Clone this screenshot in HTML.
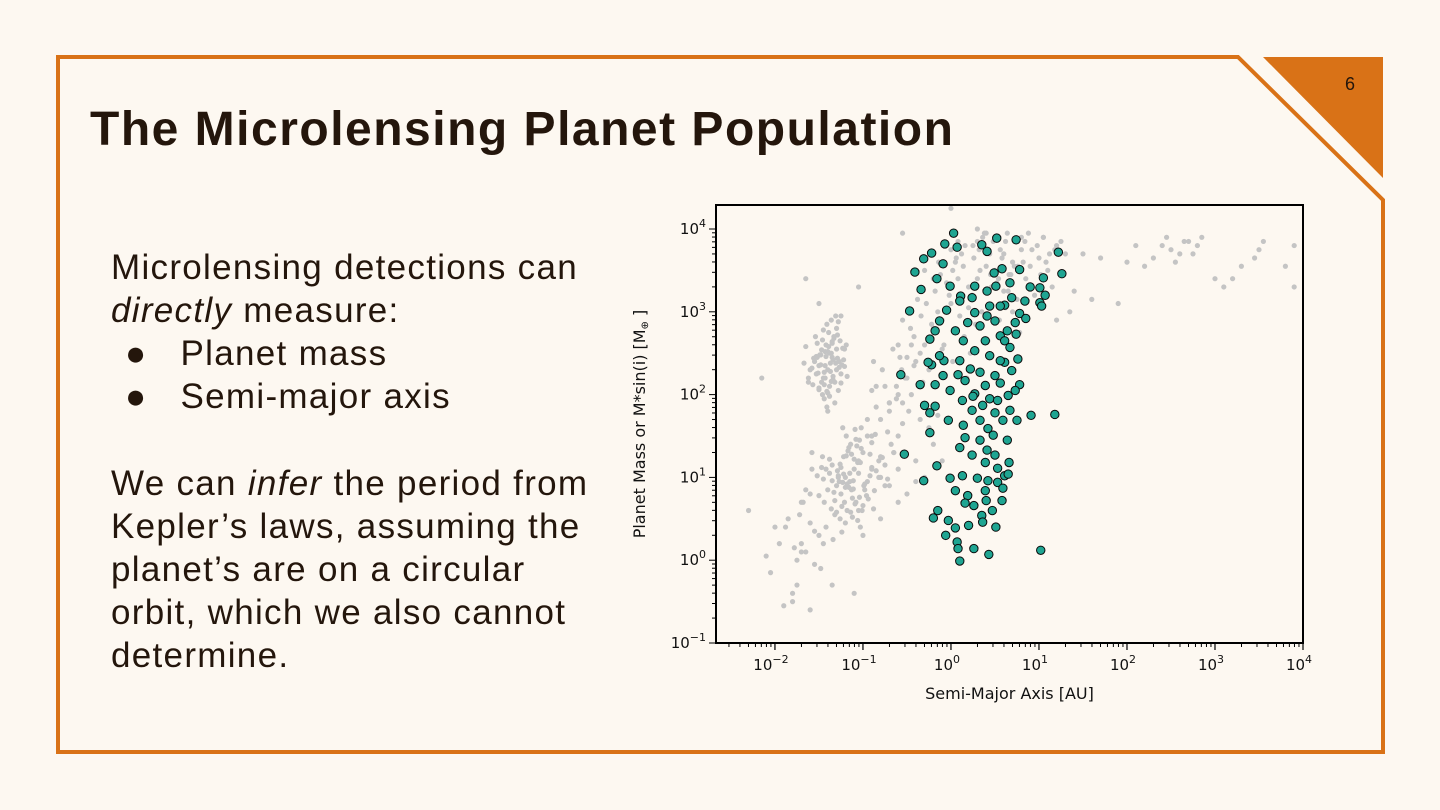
<!DOCTYPE html>
<html><head><meta charset="utf-8">
<style>
html,body{margin:0;padding:0;background:#fdf8f1;}
#slide{position:relative;width:1440px;height:810px;overflow:hidden;background:#fdf8f1;font-family:"Liberation Sans",sans-serif;color:#24160c;}
.t{position:absolute;white-space:nowrap;}
#title{left:90px;top:102px;font-size:48px;font-weight:bold;letter-spacing:1.5px;}
.body{font-size:35px;left:111px;letter-spacing:1.3px;}
</style></head>
<body>
<div id="slide">
<svg width="1440" height="810" style="position:absolute;left:0;top:0">
<path d="M58,57 L1238,57 L1383,200 L1383,752 L58,752 Z" fill="none" stroke="#d97217" stroke-width="4"/>
<path d="M1263,57 L1383,57 L1383,178 Z" fill="#d97217"/>
<text x="1350" y="90" font-size="18" font-family="Liberation Sans, sans-serif" text-anchor="middle" fill="#24160c">6</text>
</svg>
<div id="title" class="t">The Microlensing Planet Population</div>
<div class="t body" style="top:248px">Microlensing detections can</div>
<div class="t body" style="top:291px"><i>directly</i> measure:</div>
<div class="t body" style="top:334px;left:125px">●&nbsp;&nbsp;&nbsp;Planet mass</div>
<div class="t body" style="top:377px;left:125px">●&nbsp;&nbsp;&nbsp;Semi-major axis</div>
<div class="t body" style="top:464px">We can <i>infer</i> the period from</div>
<div class="t body" style="top:507px">Kepler’s laws, assuming the</div>
<div class="t body" style="top:550px">planet’s are on a circular</div>
<div class="t body" style="top:593px">orbit, which we also cannot</div>
<div class="t body" style="top:636px">determine.</div>
<svg id="chart" width="1440" height="810" style="position:absolute;left:0;top:0"></svg>
</div>
<script>
// log10 semi-major axis [AU] and log10 mass [Earth masses]
const grayLogA = [-1.40,-1.35,-1.45,-1.30,-1.50,-1.38,-1.42,-1.25,-1.55,-1.33,-1.47,-1.36,-1.28,-1.60,-1.41,-1.31,-1.44,-1.52,-1.37,-1.22,-1.48,-1.34,-1.39,-1.27,-1.57,-1.43,-1.32,-1.46,-1.18,-1.65,-1.40,-1.29,-1.36,-1.50,-1.24,-1.44,-1.35,-1.41,-1.53,-1.30,
-1.20,-1.10,-1.30,-1.05,-1.25,-1.15,-0.95,-1.35,-1.08,-1.22,-1.40,-1.00,-1.18,-1.28,-0.90,-1.12,-1.45,-1.02,-1.24,-1.16,-0.85,-1.32,-1.06,-1.50,-1.14,-0.98,-1.26,-1.38,-1.09,-0.80,-1.20,-1.60,-1.04,-1.30,-0.92,-1.55,-1.11,-0.75,-1.42,-1.19,-1.70,-0.70,-1.23,-1.65,-0.88,-1.34,-1.75,-1.48,-0.65,-1.80,
-0.50,-0.30,-0.10,0.10,0.30,0.50,0.70,-0.40,-0.20,0.00,0.20,0.40,0.60,0.80,-0.60,-0.35,-0.15,0.05,0.25,0.45,0.65,0.85,1.00,1.10,1.20,-0.25,0.15,0.35,0.55,0.75,-0.45,-0.05,0.22,0.48,0.62,0.90,1.05,-0.70,-0.55,-0.08,0.12,0.28,0.38,0.52,0.70,0.95,-0.80,-0.20,0.02,0.18,0.33,0.58,0.78,1.15,-0.90,-0.62,0.08,0.42,0.66,1.30,
-0.60,-0.40,-0.70,-0.30,-0.50,-0.20,-0.80,-0.35,-0.90,-0.55,-1.00,-0.45,-0.65,-0.25,-0.75,-0.15,-1.10,-2.30,-1.85,-1.95,-2.05,-1.70,-2.10,-1.90,-1.80,-1.60,-0.10,-2.00,-1.75,-0.85,-1.35,-0.95,-0.60,-0.40,-1.25,-0.28,-1.05,-1.50,-2.15,-1.65,
1.50,1.70,2.00,2.20,2.30,2.40,2.50,2.60,2.65,2.70,2.80,2.85,3.00,3.10,3.30,3.50,3.55,3.80,3.90,1.40,1.60,1.20,1.90,2.10,2.45,2.55,2.75,3.20,3.45,3.90,1.35,1.05,
0.00,0.30,-0.55,-1.13,-1.58,-1.68,-1.46,-1.27,-1.05,-0.82,-1.52,-1.62,-1.21];
const grayLogM = [2.30,2.45,2.20,2.55,2.35,2.10,2.60,2.25,2.40,2.70,2.15,2.50,2.05,2.30,2.85,2.38,1.95,2.62,2.28,2.42,2.48,2.18,2.75,2.33,2.12,2.52,1.90,2.66,2.22,2.58,2.02,2.44,2.90,2.08,2.36,2.27,2.64,1.85,2.46,2.80,
1.00,1.10,0.90,1.20,0.80,1.05,0.95,1.15,0.70,1.25,0.85,1.30,0.60,1.02,1.12,0.75,0.98,1.35,0.65,0.88,1.08,0.55,1.18,0.78,1.40,0.92,0.50,1.22,0.68,1.00,0.45,0.80,1.45,0.58,1.28,0.35,0.96,1.15,0.40,1.50,0.20,0.90,1.60,0.10,0.62,0.25,-0.30,-0.10,1.30,-0.40,
2.20,2.60,2.90,3.20,3.40,3.50,3.60,2.40,2.80,3.10,3.30,3.55,3.70,3.75,2.00,2.50,3.00,3.60,3.80,3.45,3.25,3.40,3.65,3.50,3.80,2.30,2.70,3.00,2.90,3.15,2.60,3.35,2.50,3.85,3.05,3.55,3.90,1.90,2.90,2.60,3.70,2.85,3.95,3.35,3.00,3.20,1.70,3.40,2.40,2.20,3.50,3.65,2.75,3.30,1.50,2.10,3.85,2.65,3.45,3.70,
1.50,1.20,1.80,1.00,0.80,1.40,0.50,1.70,1.10,1.90,0.30,2.00,1.30,1.60,0.90,1.75,-0.40,0.60,0.50,0.20,-0.15,0.10,0.05,-0.55,-0.50,-0.60,1.20,0.40,0.00,2.10,-0.30,1.50,0.70,0.95,2.95,1.85,3.30,3.10,2.20,3.40,
3.70,3.65,3.60,3.55,3.65,3.80,3.75,3.70,3.85,3.85,3.80,3.90,3.40,3.30,3.55,3.75,3.85,3.55,3.30,3.25,3.15,2.90,3.10,3.80,3.90,3.60,3.70,3.40,3.65,3.80,3.00,3.90,
4.25,4.00,3.95,0.85,1.10,0.70,1.25,0.95,0.60,1.00,2.45,2.15,2.55];
const grayLogA2 = [-1.43,-1.37,-1.49,-1.32,-1.26,-1.58,-1.40,-1.46,-1.34,-1.21,-1.62,-1.39,-1.29,-1.51,-1.44,-1.35,-1.30,-1.56,-1.41,-1.23,-1.48,-1.33,-1.38,-1.45,-1.27,-1.53,-1.42,-1.36,-1.19,-1.67,-1.31,-1.47,-1.40,-1.25,-1.54,-1.34,-1.43,-1.38,-1.28,-1.50,
-1.15,-1.05,-1.25,-0.98,-1.18,-1.10,-0.92,-1.32,-1.03,-1.20,-1.38,-0.96,-1.13,-1.23,-0.87,-1.07,-1.42,-1.00,-1.28,-1.12,-0.82,-1.35,-1.01,-1.47,-1.17,-0.94,-1.22,-1.33,-1.06,-0.78,-1.26,-1.14,-0.99,-1.08,-1.21,-1.16,-1.03,-1.29,-0.90,-1.11,-1.19,-1.36,-1.04,-0.86,-1.24,-1.09,-0.72,-1.44,-1.52,-0.60,
-0.42,-0.28,-0.12,0.06,0.24,0.44,0.62,0.82,-0.34,-0.18,0.02,0.16,0.36,0.54,0.72,0.92,1.12,-0.50,-0.22,-0.02,0.14,0.32,0.50,0.68,0.88,1.08,1.25,-0.38,-0.10,0.08,0.26,0.46,0.64,0.84,1.02,-0.56,-0.30,0.00,0.20,0.40,0.60,0.80,1.18,-0.46,-0.14,0.10,0.30,0.56,0.76,0.98,
-0.95,-0.85,-0.72,-0.62,-0.52,-0.90,-0.78,-0.68,-0.58,-0.48,-1.02,-0.88,-0.75,-0.66,-0.55,-0.42,-0.32,-0.80,-0.70,-0.60,-1.70,-1.60,-1.50,-1.78,-1.88,-1.55,-1.65,-1.72,-1.45,-1.58];
const grayLogM2 = [2.20,2.38,2.48,2.15,2.65,2.32,2.52,2.00,2.42,2.34,2.20,2.58,2.72,2.26,2.12,2.62,2.30,2.44,2.04,2.56,2.36,2.68,1.98,2.78,2.40,2.25,2.46,2.16,2.60,2.38,2.95,2.54,1.80,2.14,2.70,2.22,2.35,2.50,2.88,2.06,
0.95,1.05,1.12,0.85,0.92,1.22,1.02,0.72,1.18,0.88,1.05,0.78,1.28,0.94,0.84,1.38,1.10,0.66,1.00,0.52,1.20,0.96,0.60,1.12,1.32,0.74,1.04,0.82,0.48,1.24,1.16,0.58,0.90,1.46,0.70,1.36,0.40,1.08,1.42,0.86,1.26,0.62,0.76,1.52,0.34,1.58,0.98,0.70,1.02,1.10,
2.70,3.10,3.45,3.65,3.20,3.70,3.85,3.60,2.95,3.25,3.50,3.80,3.90,3.40,3.55,3.75,3.70,2.45,2.85,3.20,3.55,3.75,3.90,3.45,3.95,3.60,3.85,3.15,2.55,3.40,3.65,3.30,3.95,3.85,3.45,2.30,3.50,3.75,3.05,3.95,3.25,3.90,3.75,2.80,3.60,2.95,3.85,3.75,3.55,3.80,
1.70,1.85,1.55,1.95,2.20,2.05,2.30,1.40,2.45,1.80,1.60,2.40,2.10,2.55,1.65,2.35,2.15,1.25,1.90,2.60,0.70,0.45,0.30,0.15,0.40,-0.05,0.85,0.55,0.20,1.30];
const tealLogA = [0.03,-0.07,-0.22,0.07,0.35,0.52,0.41,0.74,-0.41,-0.09,-0.16,-0.34,-0.31,-0.01,0.69,0.11,0.49,0.51,0.58,0.78,1.05,1.22,1.26,1.01,0.10,-0.05,0.44,0.61,0.78,0.85,1.01,1.07,-0.47,-0.24,0.05,0.19,0.27,0.33,0.41,0.50,0.56,0.64,0.73,0.39,0.44,0.10,-0.08,0.27,0.33,0.50,0.56,0.61,0.67,0.74,0.76,0.08,0.16,0.22,0.39,0.56,0.61,0.65,0.78,-0.22,-0.09,-0.01,0.13,0.27,0.36,0.44,0.53,0.50,0.73,0.69,-0.18,-0.13,-0.57,-0.26,-0.18,-0.03,0.14,0.24,0.33,0.42,0.48,0.59,0.67,0.75,-0.18,-0.24,0.16,0.33,0.41,0.50,0.64,0.66,0.91,1.18,-0.24,0.10,0.24,0.39,0.53,0.61,0.42,0.30,-0.16,-0.01,0.13,0.39,0.53,0.59,0.65,0.05,0.19,0.26,0.40,0.47,0.58,0.16,0.35,-0.15,-0.20,-0.03,0.05,0.20,0.36,0.51,-0.06,0.07,0.08,0.26,0.43,0.10,1.02,-0.31,-0.53,-0.30,-0.35,0.25,0.56,0.14,-0.13,0.41,0.67,0.90,1.03,0.84,0.27,0.24];
const tealLogM = [3.95,3.82,3.71,3.78,3.81,3.89,3.73,3.87,3.48,3.58,3.40,3.27,3.64,3.31,3.17,3.19,3.47,3.31,3.52,3.51,3.41,3.72,3.46,3.29,3.13,3.02,3.07,3.08,2.98,2.92,3.11,3.20,3.01,2.67,2.77,2.87,2.99,2.83,2.95,2.89,3.07,2.77,2.87,2.65,2.47,2.41,2.41,2.53,2.27,2.23,2.71,2.65,2.57,2.73,2.43,2.24,2.17,2.31,2.11,2.14,2.39,1.99,2.12,2.36,2.23,2.05,1.93,2.01,1.87,1.95,1.93,1.78,2.05,2.29,2.77,2.47,2.24,2.39,2.12,1.69,1.63,1.81,1.69,1.59,1.51,1.69,1.81,1.69,1.86,1.78,1.48,1.45,1.33,1.27,1.45,1.18,1.75,1.76,1.54,1.36,1.27,1.18,1.11,1.02,0.96,0.99,1.14,0.99,1.02,0.84,0.94,0.87,1.04,0.84,0.78,0.66,0.72,0.60,0.72,0.69,0.54,0.60,0.51,0.48,0.39,0.42,0.46,0.40,0.30,0.22,0.14,0.14,0.07,-0.01,0.12,0.96,1.28,1.87,2.12,1.98,2.41,2.65,2.89,3.25,3.35,3.30,3.07,3.13,3.31,3.17];
const xTickExps = [-2,-1,0,1,2,3,4];
const yTickExps = [-1,0,1,2,3,4];

const NS='http://www.w3.org/2000/svg';
const svg=document.getElementById('chart');
const L=716,R=1303,T=205,B=643;
const xMin=-2.67,xMax=4.0,yMin=-1,yMax=4.29;
function xs(v){return L+(v-xMin)/(xMax-xMin)*(R-L);}
function ys(v){return B-(v-yMin)/(yMax-yMin)*(B-T);}
function mk(tag,attrs){const e=document.createElementNS(NS,tag);for(const k in attrs)e.setAttribute(k,attrs[k]);svg.appendChild(e);return e;}
const font='DejaVu Sans, sans-serif';

function drawGray(aArr,mArr){
  const n=Math.min(aArr.length,mArr.length);
  for(let i=0;i<n;i++){
    const c=mk('circle',{cx:xs(aArr[i]),cy:ys(mArr[i]),r:2.6,fill:'#c4c4c4'});
    
    
  }
}
drawGray(grayLogA,grayLogM);
drawGray(grayLogA2,grayLogM2);
for(let i=0;i<tealLogA.length;i++){
  const c=mk('circle',{cx:xs(tealLogA[i]),cy:ys(tealLogM[i]),r:4.2,fill:'#1fa592',stroke:'#0a0a0a','stroke-width':1});
  
  
}
const frame=mk('rect',{x:L,y:T,width:R-L,height:B-T,fill:'none',stroke:'#000','stroke-width':2});



for(let d=-3;d<4;d++){
  for(let k=1;k<10;k++){
    const v=d+Math.log10(k); if(v<xMin||v>xMax) continue;
    const x=xs(v), len=k===1?7:4;
    mk('line',{x1:x,y1:B,x2:x,y2:B+len,stroke:'#000','stroke-width':1});
  }
}
xTickExps.forEach(e=>{
  const x=xs(e);
  mk('line',{x1:x,y1:B,x2:x,y2:B+7,stroke:'#000','stroke-width':1.2});
  const t=mk('text',{x:x-4,y:B+27,'font-size':15,'font-family':font,'text-anchor':'middle',fill:'#111'});
  t.innerHTML='10<tspan dy="-7" font-size="11">'+(e<0?'\u2212'+(-e):e)+'</tspan>';
  
  
});
for(let d=-1;d<5;d++){
  for(let k=1;k<10;k++){
    const v=d+Math.log10(k); if(v<yMin||v>yMax) continue;
    const y=ys(v), len=k===1?7:4;
    mk('line',{x1:L,y1:y,x2:L-len,y2:y,stroke:'#000','stroke-width':1});
  }
}
yTickExps.forEach(e=>{
  const y=ys(e);
  const t=mk('text',{x:L-10,y:y+5,'font-size':15,'font-family':font,'text-anchor':'end',fill:'#111'});
  t.innerHTML='10<tspan dy="-7" font-size="11">'+(e<0?'\u2212'+(-e):e)+'</tspan>';
  
  
});
const xt=mk('text',{x:(L+R)/2,y:699,'font-size':16,'font-family':font,'text-anchor':'middle',fill:'#111'});
xt.textContent='Semi-Major Axis [AU]';


const yt=mk('text',{x:0,y:0,'font-size':16,'font-family':font,'text-anchor':'middle',fill:'#111',transform:'translate(645,424) rotate(-90)'});
yt.innerHTML='Planet Mass or M*sin(i) [M<tspan font-size="10" dy="3">\u2295</tspan><tspan dy="-3"> ]</tspan>';


</script>
</body></html>
